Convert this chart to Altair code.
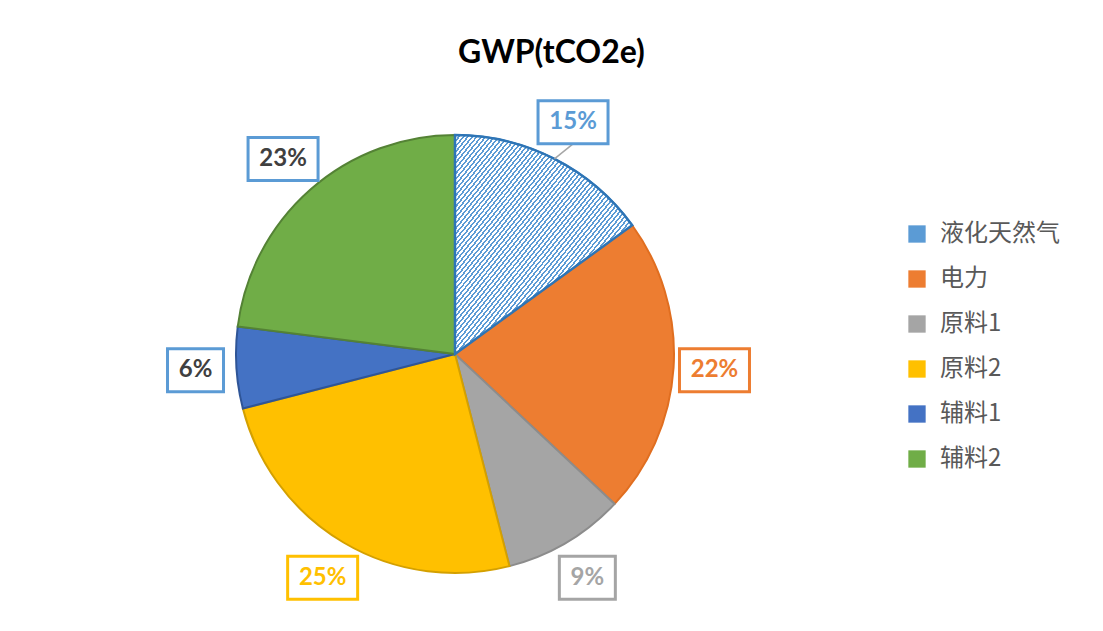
import altair as alt
import pandas as pd

# ---- data ----
CATEGORIES = ["液化天然气", "电力", "原料1", "原料2", "辅料1", "辅料2"]
VALUES = [15, 22, 9, 25, 6, 23]
LABELS = ["15%", "22%", "9%", "25%", "6%", "23%"]
TITLE = "GWP(tCO2e)"

# ---- styles ----
FILL = ["#5B9BD5", "#ED7D31", "#A5A5A5", "#FFC000", "#4472C4", "#70AD47"]
EDGE = ["#2E75B6", "#E06E20", "#8C8C8C", "#D4A000", "#2F5597", "#548235"]
BOX = ["#5B9BD5", "#ED7D31", "#A5A5A5", "#FFC000", "#5B9BD5", "#5B9BD5"]
TEXT = ["#5B9BD5", "#ED7D31", "#A5A5A5", "#FFC000", "#404040", "#404040"]

W, H = 1087, 545
CX, CY = 447, 276          # pie centre inside the view (pixels)
R = 219                    # pie radius
RL = 260                   # label radius
BOX_HALF_H = 21.5

total = sum(VALUES)
df = pd.DataFrame({"cat": CATEGORIES, "value": VALUES, "label": LABELS,
                   "idx": list(range(len(CATEGORIES)))})

XS = alt.Scale(domain=[-CX, W - CX], nice=False, zero=False)
YS = alt.Scale(domain=[-(H - CY), CY], nice=False, zero=False)
TS = alt.Scale(domain=[0, total])

base = (
    alt.Chart(df)
    .transform_window(end="sum(value)", sort=[alt.SortField("idx")], frame=[None, 0])
    .transform_calculate(start="datum.end - datum.value")
    .transform_calculate(mid=f"2*PI*(datum.start + datum.value/2)/{total}")
    .transform_calculate(
        lx=f"{RL}*sin(datum.mid)", ly=f"{RL}*cos(datum.mid)",
        ex=f"{R}*sin(datum.mid)", ey=f"{R}*cos(datum.mid)",
        hw="(28 + 14*length(datum.label))/2",
    )
    .transform_calculate(
        bx1="datum.lx - datum.hw", bx2="datum.lx + datum.hw",
        by1=f"datum.ly - {BOX_HALF_H}", by2=f"datum.ly + {BOX_HALF_H}",
    )
)

xc = alt.XDatum(datum=0, type="quantitative", scale=XS, axis=None)
yc = alt.YDatum(datum=0, type="quantitative", scale=YS, axis=None)

pie = base.mark_arc(outerRadius=R, strokeWidth=2).encode(
    theta=alt.Theta("start:Q", scale=TS, stack=None),
    theta2="end:Q",
    x=xc, y=yc,
    fill=alt.Fill("cat:N", scale=alt.Scale(domain=CATEGORIES, range=FILL),
                  legend=alt.Legend(title=None, orient="none", legendX=897, legendY=144,
                                    symbolType="square", symbolSize=300,
                                    symbolStrokeWidth=0,
                                    labelFont="Noto Sans CJK SC", labelFontSize=24,
                                    labelColor="#595959", labelOffset=11,
                                    rowPadding=21, labelLimit=300)),
    stroke=alt.Stroke("cat:N", scale=alt.Scale(domain=CATEGORIES, range=EDGE), legend=None),
    order=alt.Order("idx:Q"),
)

# hatched overlay for the first slice (stripes built from gradient stops)
n = 80
stops = []
for i in range(n):
    a, b, c = i / n, (i + 0.45) / n, (i + 1) / n
    stops += [alt.GradientStop(offset=a, color="#5B9BD5"),
              alt.GradientStop(offset=b, color="#5B9BD5"),
              alt.GradientStop(offset=b, color="#FFFFFF"),
              alt.GradientStop(offset=c, color="#FFFFFF")]
hatch_fill = alt.LinearGradient(gradient="linear", stops=stops, x1=0, y1=0, x2=1, y2=1)

hatch = base.transform_filter("datum.idx == 0").mark_arc(
    outerRadius=R, fill=hatch_fill, stroke="#2E75B6", strokeWidth=2.5
).encode(
    theta=alt.Theta("start:Q", scale=TS, stack=None),
    theta2="end:Q",
    x=xc, y=yc,
)

leader = base.transform_filter("datum.idx == 0").mark_rule(
    color="#A6A6A6", strokeWidth=1.5
).encode(
    x=alt.X("ex:Q", scale=XS, axis=None),
    y=alt.Y("ey:Q", scale=YS, axis=None),
    x2="lx:Q", y2="by1:Q",
)

boxes = base.mark_rect(fill="#FFFFFF", strokeWidth=3).encode(
    x=alt.X("bx1:Q", scale=XS, axis=None), x2="bx2:Q",
    y=alt.Y("by1:Q", scale=YS, axis=None), y2="by2:Q",
    stroke=alt.Stroke("cat:N", scale=alt.Scale(domain=CATEGORIES, range=BOX), legend=None),
)

texts = base.mark_text(font="Lato", fontWeight="bold", fontSize=24).encode(
    x=alt.X("lx:Q", scale=XS, axis=None),
    y=alt.Y("ly:Q", scale=YS, axis=None),
    text="label:N",
    fill=alt.Fill("cat:N", scale=alt.Scale(domain=CATEGORIES, range=TEXT), legend=None),
)

chart = (
    alt.layer(pie, hatch, leader, boxes, texts)
    .resolve_scale(fill="independent", stroke="independent")
    .properties(
        width=W, height=H,
        autosize=alt.AutoSizeParams(type="none"),
        padding={"left": 0, "right": 0, "top": 70, "bottom": 0},
        background="#FFFFFF",
        title=alt.TitleParams(TITLE, font="Lato", fontSize=32, fontWeight="bold",
                              color="#000000", anchor="middle", offset=8),
    )
    .configure_view(stroke=None, strokeWidth=0)
)

chart.save("out.html", embed_options={"renderer": "svg", "actions": False})
